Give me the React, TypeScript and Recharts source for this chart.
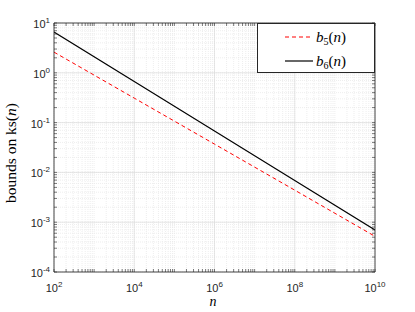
import React from 'react';
import { LineChart, Line, XAxis, YAxis, CartesianGrid, Legend, Label } from 'recharts';

const nValues = [1e2, 1e4, 1e6, 1e8, 1e10];
const b5Values = [2.6, 0.31, 0.037, 0.0044, 0.00052];
const b6Values = [6.6, 0.67, 0.068, 0.0069, 0.0007];
const xLabelExponents = [2, 4, 6, 8, 10];
const yLabelExponents = [-4, -3, -2, -1, 0, 1];
const seriesNames = { b5: '5', b6: '6' };

const data = nValues.map((n, i) => ({ n, b5: b5Values[i], b6: b6Values[i] }));

function logTicks(minExp: number, maxExp: number): number[] {
  const t: number[] = [];
  for (let e = minExp; e < maxExp; e++) {
    for (let m = 1; m < 10; m++) t.push(m * Math.pow(10, e));
  }
  t.push(Math.pow(10, maxExp));
  return t;
}

const xTicks = logTicks(2, 10);
const yTicks = logTicks(-4, 1);
const xMajor = xLabelExponents.map((e) => Math.pow(10, e));
const yMajor = yLabelExponents.map((e) => Math.pow(10, e));

const AX = '#262626';
const SANS = "'Liberation Sans', Arial, Helvetica, sans-serif";
const SERIF = "'Liberation Serif', 'DejaVu Serif', 'Times New Roman', serif";

function decadeExp(v: number): number | null {
  const e = Math.log10(v);
  return Math.abs(e - Math.round(e)) < 1e-6 ? Math.round(e) : null;
}

const BottomTick = (props: any) => {
  const { x, y, payload } = props;
  const e = decadeExp(payload.value);
  const lab = e !== null && xLabelExponents.includes(e);
  return (
    <g>
      <line x1={x} x2={x} y1={y} y2={y - 3} stroke={AX} strokeWidth={0.6} />
      {lab && (
        <text x={x} y={y + 20} textAnchor="middle" style={{ fontFamily: SANS }} fontSize={11} fill={AX}>
          <tspan>10</tspan>
          <tspan dy={-5} fontSize={8}>{e}</tspan>
        </text>
      )}
    </g>
  );
};

const TopTick = (props: any) => {
  const { x, y } = props;
  return <line x1={x} x2={x} y1={y} y2={y + 3} stroke={AX} strokeWidth={0.6} />;
};

const LeftTick = (props: any) => {
  const { x, y, payload } = props;
  const e = decadeExp(payload.value);
  const lab = e !== null && yLabelExponents.includes(e);
  return (
    <g>
      <line x1={x} x2={x + 3} y1={y} y2={y} stroke={AX} strokeWidth={0.6} />
      {lab && (
        <text x={x - 4} y={y + 5} textAnchor="end" style={{ fontFamily: SANS }} fontSize={11} fill={AX}>
          <tspan>10</tspan>
          <tspan dy={-5} fontSize={8}>{e}</tspan>
        </text>
      )}
    </g>
  );
};

const RightTick = (props: any) => {
  const { x, y } = props;
  return <line x1={x} x2={x - 3} y1={y} y2={y} stroke={AX} strokeWidth={0.6} />;
};

const serifStyle: React.CSSProperties = { fontFamily: SERIF };

const LegendEntry = ({ y, sub }: { y: number; sub: string }) => (
  <text x={58} y={y} style={serifStyle} fontSize={15} fill="#000">
    <tspan fontStyle="italic">b</tspan>
    <tspan dy={3} fontSize={10}>{sub}</tspan>
    <tspan dy={-3}>(</tspan>
    <tspan fontStyle="italic">n</tspan>
    <tspan>)</tspan>
  </text>
);

const LegendBox = () => (
  <div
    style={{
      width: 118,
      height: 50,
      boxSizing: 'border-box',
      border: `1px solid ${AX}`,
      background: '#fff',
    }}
  >
    <svg width={116} height={48} style={{ display: 'block' }}>
      <line x1={27} x2={55} y1={13} y2={13} stroke="#ff0000" strokeWidth={1} strokeDasharray="4 3" />
      <LegendEntry y={18} sub={seriesNames.b5} />
      <line x1={27} x2={55} y1={37} y2={37} stroke="#000" strokeWidth={1.2} />
      <LegendEntry y={42} sub={seriesNames.b6} />
    </svg>
  </div>
);

export default function App() {
  return (
    <div style={{ position: 'absolute', left: 0, top: 0, width: 415, height: 312, background: '#fff' }}>
      <LineChart width={415} height={312} data={data} margin={{ top: 13, right: 30, bottom: 10, left: 10 }}>
        <CartesianGrid
          stroke="#e6e6e6"
          strokeDasharray="1 1"
          strokeWidth={0.7}
          verticalValues={xTicks}
          horizontalValues={yTicks}
        />
        <CartesianGrid
          stroke="#dcdcdc"
          strokeWidth={0.7}
          verticalValues={xMajor}
          horizontalValues={yMajor}
        />
        <XAxis
          dataKey="n"
          type="number"
          scale="log"
          domain={[1e2, 1e10]}
          allowDataOverflow
          ticks={xTicks}
          interval={0}
          height={30}
          tickSize={0}
          tickMargin={0}
          tickLine={false}
          axisLine={{ stroke: AX, strokeWidth: 0.8 }}
          tick={<BottomTick />}
        >
          <Label
            content={() => (
              <text x={213} y={306} textAnchor="middle" style={serifStyle} fontStyle="italic" fontSize={14} fill="#000">
                n
              </text>
            )}
          />
        </XAxis>
        <XAxis
          xAxisId="top"
          orientation="top"
          dataKey="n"
          type="number"
          scale="log"
          domain={[1e2, 1e10]}
          allowDataOverflow
          ticks={xTicks}
          interval={0}
          height={10}
          tickSize={0}
          tickMargin={0}
          tickLine={false}
          axisLine={{ stroke: AX, strokeWidth: 0.8 }}
          tick={<TopTick />}
        />
        <YAxis
          type="number"
          scale="log"
          domain={[1e-4, 1e1]}
          allowDataOverflow
          ticks={yTicks}
          interval={0}
          width={44}
          tickSize={0}
          tickMargin={0}
          tickLine={false}
          axisLine={{ stroke: AX, strokeWidth: 0.8 }}
          tick={<LeftTick />}
        >
          <Label
            content={() => (
              <text
                x={16}
                y={153}
                transform="rotate(-90 16 153)"
                textAnchor="middle"
                style={serifStyle}
                fontSize={15.5}
                fill="#000"
              >
                <tspan>bounds on ks(</tspan>
                <tspan fontStyle="italic">n</tspan>
                <tspan>)</tspan>
              </text>
            )}
          />
        </YAxis>
        <YAxis
          yAxisId="right"
          orientation="right"
          type="number"
          scale="log"
          domain={[1e-4, 1e1]}
          allowDataOverflow
          ticks={yTicks}
          interval={0}
          width={10}
          tickSize={0}
          tickMargin={0}
          tickLine={false}
          axisLine={{ stroke: AX, strokeWidth: 0.8 }}
          tick={<RightTick />}
        />
        <Line
          dataKey="b5"
          stroke="#ff0000"
          strokeWidth={1}
          strokeDasharray="4 3"
          dot={false}
          isAnimationActive={false}
        />
        <Line dataKey="b6" stroke="#000000" strokeWidth={1.2} dot={false} isAnimationActive={false} />
        <Legend
          layout="horizontal"
          verticalAlign="middle"
          align="center"
          content={() => <LegendBox />}
          wrapperStyle={{ position: 'absolute', left: 257, top: 23, width: 118, height: 50, margin: 0, padding: 0 }}
        />
      </LineChart>
    </div>
  );
}
